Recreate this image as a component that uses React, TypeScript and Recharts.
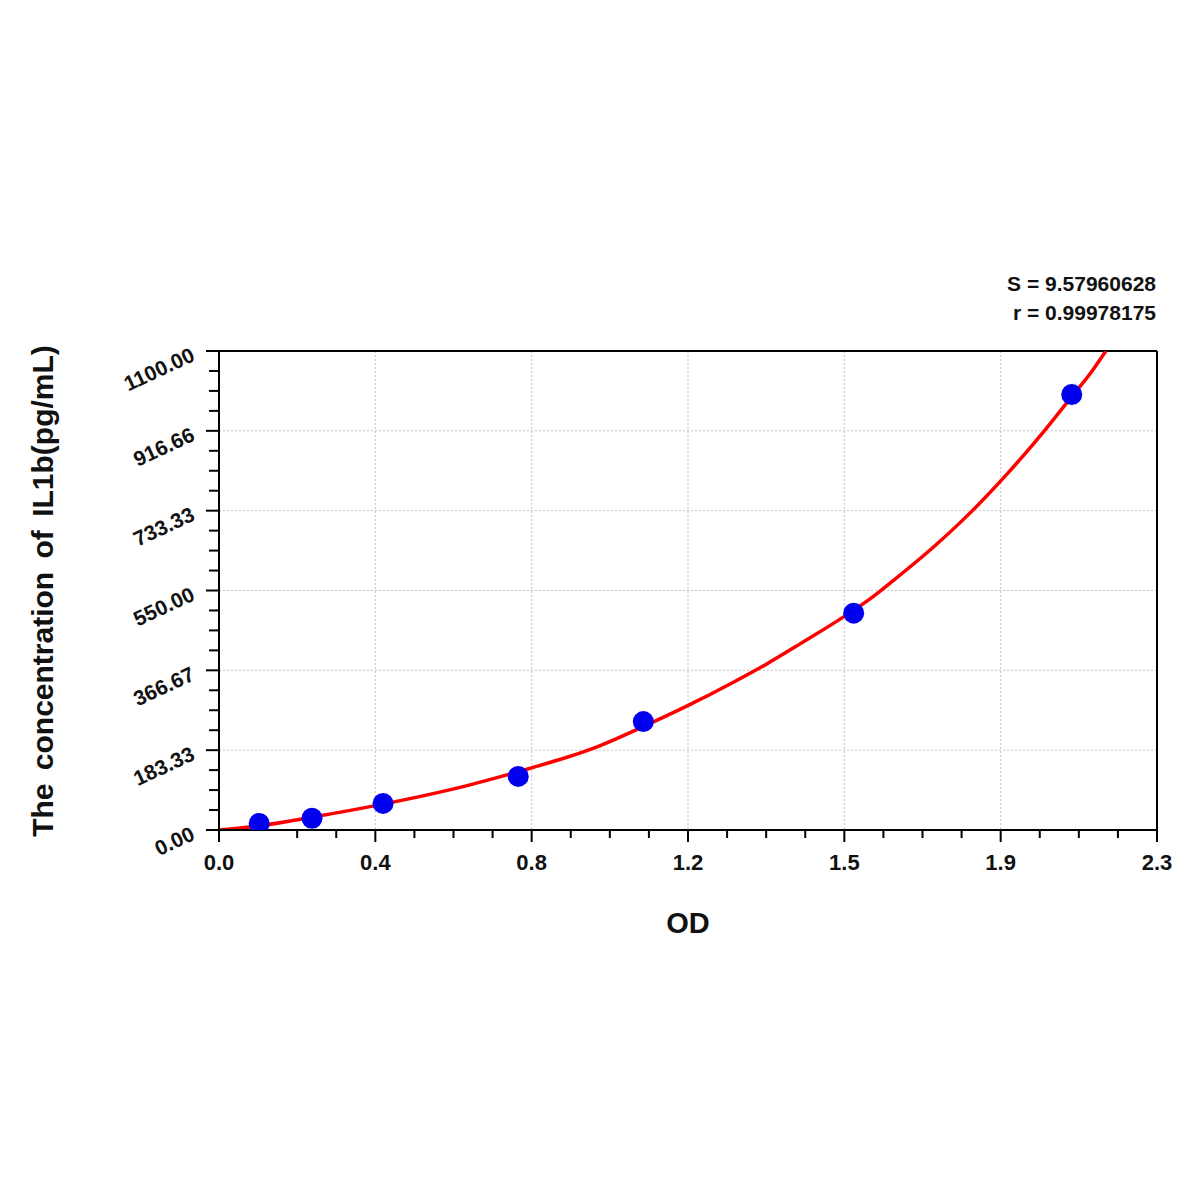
import { ComposedChart, Line, Scatter, XAxis, YAxis, CartesianGrid, ReferenceLine } from "recharts"

// axis ticks
const xMajorTicks = [0, 0.385, 0.77, 1.155, 1.54, 1.925, 2.31]
const xTickLabels = ["0.0", "0.4", "0.8", "1.2", "1.5", "1.9", "2.3"]
const yMajorTicks = [0, 183.33, 366.67, 550, 733.33, 916.66, 1100]
const yTickLabels = ["0.00", "183.33", "366.67", "550.00", "733.33", "916.66", "1100.00"]

// standards (blue dots)
const standardOD = [0.099, 0.229, 0.404, 0.737, 1.045, 1.563, 2.1]
const standardConc = [15, 27, 61, 123, 249, 498, 1000]

// fitted curve (red line)
const curveOD = [0, 0.101, 0.232, 0.385, 0.611, 0.771, 0.857, 0.939, 1.046, 1.153, 1.268, 1.35, 1.432, 1.539, 1.605, 1.662, 1.761, 1.856, 1.946, 1.983, 2.032, 2.098, 2.147, 2.184]
const curveConc = [0, 10, 30, 56, 102, 143, 167, 194, 238, 285, 340, 382, 428, 490, 532, 574, 651, 734, 823, 862, 916, 993, 1050, 1100]

const fitStats = ["S = 9.57960628", "r = 0.99978175"]
const xTitle = "OD"
const yTitle = "The concentration of IL1b(pg/mL)"

const points = standardOD.map((x, i) => ({ x, y: standardConc[i] }))
const curve = curveOD.map((x, i) => ({ x, y: curveConc[i] }))

// minor ticks: quarter steps between majors (first x minor is absent in the original)
const xStep = 0.385
const xTicks: number[] = []
xMajorTicks.forEach((t, i) => {
  xTicks.push(t)
  if (i < xMajorTicks.length - 1) {
    for (let k = 1; k < 4; k++) {
      if (i === 0 && k === 1) continue
      xTicks.push(+(t + (xStep * k) / 4).toFixed(5))
    }
  }
})
const yStep = 1100 / 6
const yTicks: number[] = []
yMajorTicks.forEach((t, i) => {
  yTicks.push(t)
  if (i < yMajorTicks.length - 1) {
    for (let k = 1; k < 4; k++) yTicks.push(+(i * yStep + (yStep * k) / 4).toFixed(3))
  }
})

const FONT = '"Liberation Sans", Arial, sans-serif'

function findMajor(list: number[], v: number) {
  return list.findIndex((t) => Math.abs(t - v) < 1e-6)
}

function XTick(props: any) {
  const { x, y, payload } = props
  const i = findMajor(xMajorTicks, payload.value)
  const major = i >= 0
  return (
    <g>
      <line x1={x} x2={x} y1={y} y2={y + (major ? 12 : 8)} stroke="#000" strokeWidth={2} />
      {major && (
        <text x={x} y={y + 40} textAnchor="middle" fontSize={22} fontWeight="bold" fontFamily={FONT} fill="#111">
          {xTickLabels[i]}
        </text>
      )}
    </g>
  )
}

function YTick(props: any) {
  const { x, y, payload } = props
  const i = findMajor(yMajorTicks, payload.value)
  const major = i >= 0
  const lx = x - 23
  const ly = y + 9
  return (
    <g>
      <line x1={x - (major ? 13 : 10)} x2={x} y1={y} y2={y} stroke="#000" strokeWidth={2} />
      {major && (
        <text
          x={lx}
          y={ly}
          textAnchor="end"
          transform={`rotate(-25 ${lx} ${ly})`}
          fontSize={21}
          fontWeight="bold"
          fontFamily={FONT}
          fill="#111"
        >
          {yTickLabels[i]}
        </text>
      )}
    </g>
  )
}

export default function App() {
  return (
    <div style={{ position: "absolute", left: 0, top: 0, width: 1200, height: 1200, background: "#fff", fontFamily: FONT }}>
      <ComposedChart width={1200} height={1200} margin={{ top: 351, right: 43, left: 119, bottom: 310 }}>
        <CartesianGrid
          stroke="#c4c4c4"
          strokeDasharray="2 2"
          verticalValues={xMajorTicks}
          horizontalValues={yMajorTicks}
        />
        <XAxis
          type="number"
          dataKey="x"
          domain={[0, 2.31]}
          allowDataOverflow
          ticks={xTicks}
          interval={0}
          tickSize={0}
          tickMargin={0}
          tick={<XTick />}
          height={60}
          axisLine={{ stroke: "#000", strokeWidth: 2 }}
        />
        <YAxis
          type="number"
          dataKey="y"
          domain={[0, 1100]}
          allowDataOverflow
          ticks={yTicks}
          interval={0}
          tickSize={0}
          tickMargin={0}
          tick={<YTick />}
          width={100}
          axisLine={{ stroke: "#000", strokeWidth: 2 }}
        />
        <ReferenceLine y={1100} stroke="#000" strokeWidth={2} />
        <ReferenceLine x={2.31} stroke="#000" strokeWidth={2} />
        <Scatter
          data={points}
          dataKey="y"
          isAnimationActive={false}
          shape={(p: any) => <circle cx={p.cx} cy={p.cy} r={10.5} fill="#0000ee" />}
        />
        <Line
          data={curve}
          dataKey="y"
          type="monotone"
          stroke="#ff0000"
          strokeWidth={3.5}
          dot={false}
          activeDot={false}
          isAnimationActive={false}
        />
      </ComposedChart>
      <svg width={1200} height={1200} style={{ position: "absolute", left: 0, top: 0, pointerEvents: "none" }}>
        <text x={1156} y={290.5} textAnchor="end" fontSize={21} fontWeight="bold" fontFamily={FONT} fill="#111">
          {fitStats[0]}
        </text>
        <text x={1156} y={320} textAnchor="end" fontSize={21} fontWeight="bold" fontFamily={FONT} fill="#111">
          {fitStats[1]}
        </text>
        <text x={688} y={932.5} textAnchor="middle" fontSize={29} fontWeight="bold" fontFamily={FONT} fill="#111">
          {xTitle}
        </text>
        <text
          x={53}
          y={591}
          textAnchor="middle"
          transform="rotate(-90 53 591)"
          fontSize={30}
          fontWeight="bold"
          fontFamily={FONT}
          fill="#111"
          wordSpacing={5}
        >
          {yTitle}
        </text>
      </svg>
    </div>
  )
}
